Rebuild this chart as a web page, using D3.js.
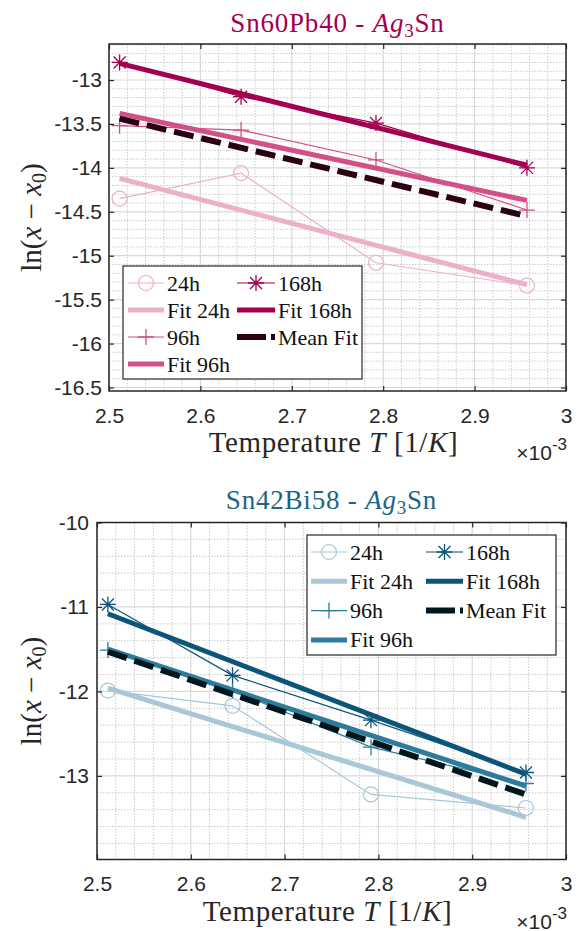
<!DOCTYPE html>
<html>
<head>
<meta charset="utf-8">
<script src="https://cdn.jsdelivr.net/npm/d3@7"></script>
<style>
  body { margin: 0; background: #fff; }
  svg { display: block; }
</style>
</head>
<body>
<svg width="581" height="931"></svg>
<script>
"use strict";

// Data (x in 1/K, scaled by 1e-3).

var invT = [2.5116, 2.6445, 2.7921, 2.9573];
var fitX = [2.5116, 2.9573];

var xTicks = [2.5, 2.6, 2.7, 2.8, 2.9, 3.0];

// Sn60Pb40 - Ag3Sn
var pb24 = [-14.35, -14.06, -15.08, -15.34];
var pb96 = [-13.52, -13.57, -13.91, -14.48];
var pb168 = [-12.80, -13.19, -13.49, -14.00];
var pbFit24 = [-14.12, -15.33];
var pbFit96 = [-13.38, -14.37];
var pbFit168 = [-12.81, -13.97];
var pbMean = [-13.44, -14.55];
var pbYTicks = [-16.5, -16, -15.5, -15, -14.5, -14, -13.5, -13];

// Sn42Bi58 - Ag3Sn
var bi24 = [-11.99, -12.17, -13.22, -13.38];
var bi96 = [-11.51, -11.99, -12.66, -13.09];
var bi168 = [-10.97, -11.81, -12.34, -12.96];
var biFit24 = [-11.96, -13.49];
var biFit96 = [-11.50, -13.12];
var biFit168 = [-11.08, -12.98];
var biMean = [-11.53, -13.22];
var biYTicks = [-13, -12, -11, -10];

var svg = d3.select("svg");

var SerifFont = "'Liberation Serif', 'DejaVu Serif', serif";
var SansFont = "'Liberation Sans', Arial, sans-serif";

var fmt = function(d){ return String(+d.toFixed(1)).replace("\u2212", "-"); };

var drawMarker = function(g, kind, cx, cy, color){
    var s = 8;
    if (kind === "circle"){
        g.append("circle").attr("cx", cx).attr("cy", cy).attr("r", 7.5)
            .attr("fill", "none").attr("stroke", color).attr("stroke-width", 1.2);
    } else if (kind === "plus"){
        g.append("path")
            .attr("d", "M" + (cx-s) + "," + cy + "H" + (cx+s) + "M" + cx + "," + (cy-s) + "V" + (cy+s))
            .attr("stroke", color).attr("stroke-width", 1.3).attr("fill", "none");
    } else if (kind === "star"){
        var d = s*0.75;
        g.append("path")
            .attr("d", "M" + (cx-s) + "," + cy + "H" + (cx+s) +
                       "M" + cx + "," + (cy-s) + "V" + (cy+s) +
                       "M" + (cx-d) + "," + (cy-d) + "L" + (cx+d) + "," + (cy+d) +
                       "M" + (cx-d) + "," + (cy+d) + "L" + (cx+d) + "," + (cy-d))
            .attr("stroke", color).attr("stroke-width", 1.3).attr("fill", "none");
    }
};

var drawPanel = function(p){
    var g = svg.append("g");
    var x = d3.scaleLinear().domain([2.5, 3.0]).range([p.left, p.right]);
    var y = d3.scaleLinear().domain(p.yDomain).range([p.bottom, p.top]);

    // Minor grid.
    var xMinor = d3.range(2.5, 3.0001, 0.02).filter(function(v){ return Math.abs(v*10 - Math.round(v*10)) > 1e-6; });
    var yMinor = d3.range(Math.ceil(p.yDomain[0]/p.yMinor)*p.yMinor, p.yDomain[1], p.yMinor)
        .filter(function(v){ return Math.abs(v/p.yMajor - Math.round(v/p.yMajor)) > 1e-6; });
    g.selectAll(".xminor").data(xMinor).enter().append("line")
        .attr("x1", function(d){ return x(d); }).attr("x2", function(d){ return x(d); })
        .attr("y1", p.top).attr("y2", p.bottom)
        .attr("stroke", "#bdbdbd").attr("stroke-width", 0.8).attr("stroke-dasharray", "1.5,1.5");
    g.selectAll(".yminor").data(yMinor).enter().append("line")
        .attr("y1", function(d){ return y(d); }).attr("y2", function(d){ return y(d); })
        .attr("x1", p.left).attr("x2", p.right)
        .attr("stroke", "#bdbdbd").attr("stroke-width", 0.8).attr("stroke-dasharray", "1.5,1.5");

    // Major grid.
    g.selectAll(".xmajor").data(xTicks).enter().append("line")
        .attr("x1", function(d){ return x(d); }).attr("x2", function(d){ return x(d); })
        .attr("y1", p.top).attr("y2", p.bottom)
        .attr("stroke", "#d9d9d9").attr("stroke-width", 1.2);
    g.selectAll(".ymajor").data(p.yTicks).enter().append("line")
        .attr("y1", function(d){ return y(d); }).attr("y2", function(d){ return y(d); })
        .attr("x1", p.left).attr("x2", p.right)
        .attr("stroke", "#d9d9d9").attr("stroke-width", 1.2);

    // Series.
    var line = d3.line().x(function(d){ return x(d[0]); }).y(function(d){ return y(d[1]); });
    p.series.forEach(function(s){
        var pts = s.xs.map(function(v, i){ return [v, s.ys[i]]; });
        var path = g.append("path").attr("d", line(pts))
            .attr("fill", "none").attr("stroke", s.color)
            .attr("stroke-width", s.width);
        if (s.dash) path.attr("stroke-dasharray", s.dash);
        if (s.marker){
            pts.forEach(function(d){ drawMarker(g, s.marker, x(d[0]), y(d[1]), s.color); });
        }
    });

    // Axes with inside ticks.
    var axStyle = function(a){
        a.select(".domain").remove();
        a.selectAll("line").attr("stroke", "#262626").attr("stroke-width", 1.2);
        a.selectAll("text").attr("fill", "#262626").style("font-family", SansFont).style("font-size", "21px");
    };
    g.append("g").attr("transform", "translate(0," + p.bottom + ")")
        .call(d3.axisBottom(x).tickValues(xTicks).tickFormat(fmt).tickSize(-5).tickPadding(17))
        .call(axStyle);
    g.append("g").attr("transform", "translate(0," + p.top + ")")
        .call(d3.axisTop(x).tickValues(xTicks).tickFormat("").tickSize(-5))
        .call(axStyle);
    g.append("g").attr("transform", "translate(" + p.left + ",0)")
        .call(d3.axisLeft(y).tickValues(p.yTicks).tickFormat(fmt).tickSize(-5).tickPadding(p.yPad))
        .call(axStyle);
    g.append("g").attr("transform", "translate(" + p.right + ",0)")
        .call(d3.axisRight(y).tickValues(p.yTicks).tickFormat("").tickSize(-5))
        .call(axStyle);

    g.append("rect").attr("x", p.left).attr("y", p.top)
        .attr("width", p.right - p.left).attr("height", p.bottom - p.top)
        .attr("fill", "none").attr("stroke", "#262626").attr("stroke-width", 1.5);

    // Title.
    var t = g.append("text").attr("x", (p.left + p.right)/2).attr("y", p.titleY)
        .attr("text-anchor", "middle").attr("fill", p.titleColor)
        .style("font-family", SerifFont).style("font-size", "27px").style("letter-spacing", "0.8px");
    t.append("tspan").text(p.alloy + " - ");
    t.append("tspan").style("font-style", "italic").text("Ag");
    t.append("tspan").attr("dy", 5).style("font-size", "19px").text("3");
    t.append("tspan").attr("dy", -5).text("Sn");

    // X label.
    var xl = g.append("text").attr("x", (p.left + p.right)/2 - 4).attr("y", p.bottom + 61)
        .attr("text-anchor", "middle").attr("fill", "#262626")
        .style("font-family", SerifFont).style("font-size", "29px").style("letter-spacing", "0.6px");
    xl.append("tspan").text("Temperature ");
    xl.append("tspan").style("font-style", "italic").text("T");
    xl.append("tspan").text(" [1/");
    xl.append("tspan").style("font-style", "italic").text("K");
    xl.append("tspan").text("]");

    // Exponent.
    var ex = g.append("text").attr("x", p.right + 1).attr("y", p.bottom + 69)
        .attr("text-anchor", "end").attr("fill", "#262626")
        .style("font-family", SansFont).style("font-size", "21px");
    ex.append("tspan").text("\u00d710");
    ex.append("tspan").attr("dy", -10).style("font-size", "17px").text("-3");

    // Y label.
    var yl = g.append("text")
        .attr("transform", "translate(41," + ((p.top + p.bottom)/2) + ") rotate(-90)")
        .attr("text-anchor", "middle").attr("fill", "#262626")
        .style("font-family", SerifFont).style("font-size", "29px");
    yl.append("tspan").text("ln(");
    yl.append("tspan").style("font-style", "italic").text("x");
    yl.append("tspan").text(" \u2212 ");
    yl.append("tspan").style("font-style", "italic").text("x");
    yl.append("tspan").attr("dy", 5).style("font-size", "20px").text("0");
    yl.append("tspan").attr("dy", -5).text(")");

    // Legend.
    var L = p.legend;
    var lg = g.append("g").attr("transform", "translate(" + L.x + "," + L.y + ")");
    lg.append("rect").attr("width", L.w).attr("height", L.h)
        .attr("fill", "#fff").attr("stroke", "#262626").attr("stroke-width", 1.2);
    p.series.forEach(function(s, i){
        var col = L.order[i][0], row = L.order[i][1];
        var x1 = L.cols[col][0], x2 = L.cols[col][1];
        var cy = L.row0 + row*L.rowH;
        var sl = lg.append("line").attr("x1", x1).attr("x2", x2).attr("y1", cy).attr("y2", cy)
            .attr("stroke", s.color).attr("stroke-width", s.width);
        if (s.dash) sl.attr("stroke-dasharray", "29,5,4,40");
        if (s.marker) drawMarker(lg, s.marker, (x1 + x2)/2, cy, s.color);
        lg.append("text").attr("x", x2 + 3).attr("y", cy + 7.5)
            .attr("fill", "#111").style("font-family", SerifFont).style("font-size", "22px")
            .text(s.name);
    });
};

var makeSeries = function(d24, f24, d96, f96, d168, f168, mean, c){
    return [
        {name: "24h", xs: invT, ys: d24, color: c[0], width: 1.2, marker: "circle"},
        {name: "Fit 24h", xs: fitX, ys: f24, color: c[0], width: 5},
        {name: "96h", xs: invT, ys: d96, color: c[1], width: 1.2, marker: "plus"},
        {name: "Fit 96h", xs: fitX, ys: f96, color: c[1], width: 5},
        {name: "168h", xs: invT, ys: d168, color: c[2], width: 1.2, marker: "star"},
        {name: "Fit 168h", xs: fitX, ys: f168, color: c[2], width: 5},
        {name: "Mean Fit", xs: fitX, ys: mean, color: c[3], width: 6, dash: "20,8"}
    ];
};

var legendOrder = [[0,0],[0,1],[0,2],[0,3],[1,0],[1,1],[1,2]];

drawPanel({
    alloy: "Sn60Pb40", titleColor: "#a3004f", titleY: 32,
    left: 109, right: 566, top: 44, bottom: 391,
    yDomain: [-16.54, -12.59], yTicks: pbYTicks, yMajor: 0.5, yMinor: 0.1, yPad: 7,
    series: makeSeries(pb24, pbFit24, pb96, pbFit96, pb168, pbFit168, pbMean,
        ["#ebb1cb", "#d24f88", "#a3004f", "#2b0013"]),
    legend: {x: 123, y: 266, w: 239, h: 113, row0: 17, rowH: 27,
             cols: [[5, 41], [114, 152]], order: legendOrder}
});

drawPanel({
    alloy: "Sn42Bi58", titleColor: "#1b6584", titleY: 509,
    left: 97, right: 566, top: 522.5, bottom: 859.5,
    yDomain: [-13.99, -10], yTicks: biYTicks, yMajor: 1, yMinor: 0.2, yPad: 8,
    series: makeSeries(bi24, biFit24, bi96, biFit96, bi168, biFit168, biMean,
        ["#a9c7d6", "#2d7c9b", "#0b5678", "#00161f"]),
    legend: {x: 307, y: 535, w: 249, h: 120, row0: 17, rowH: 29.3,
             cols: [[4, 40], [119, 156]], order: legendOrder}
});
</script>
</body>
</html>
